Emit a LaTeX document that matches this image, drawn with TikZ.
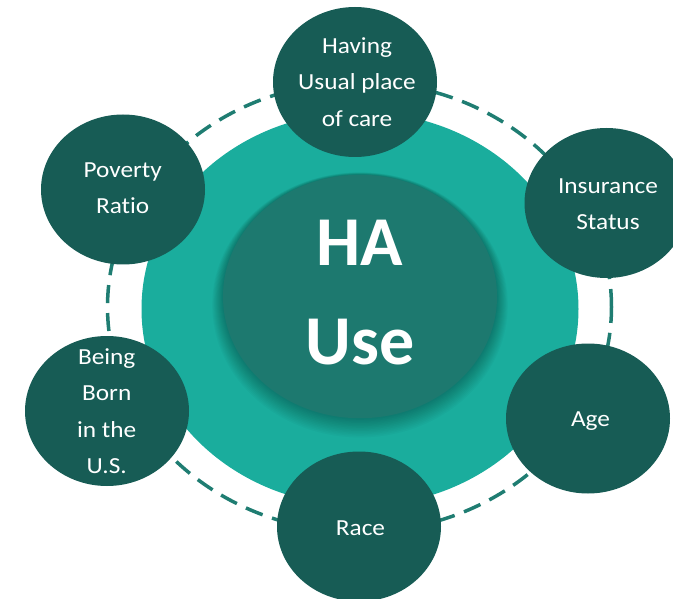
\documentclass[tikz,border=0pt]{standalone}
\usepackage{fontspec}
\setmainfont{Carlito}[Ligatures=NoCommon]
\newfontfamily\widefont{Carlito}[FakeStretch=1.1, Ligatures=NoCommon]
\usetikzlibrary{shapes.geometric}
\definecolor{nodedark}{HTML}{175C55}
\definecolor{ringteal}{HTML}{1AAD9D}
\definecolor{hubcol}{HTML}{1D796F}
\definecolor{dashcol}{HTML}{1F7D72}
\begin{document}
\begin{tikzpicture}[x=1pt,y=-1pt,
  bub/.style={ellipse, fill=nodedark, minimum width=164pt, minimum height=150pt, inner sep=0pt},
  txt/.style={text=white, align=center, font=\widefont\fontsize{23}{36.5}\selectfont, inner sep=0pt},
  bigtxt/.style={text=white, align=center, font=\fontsize{70}{99}\selectfont\bfseries, inner sep=0pt},
  dashring/.style={draw=dashcol, line width=3.5pt, dash pattern=on 18pt off 10pt}]
\useasboundingbox (0,0) rectangle (673,599);
\coordinate (c) at (359.5,307);
\draw[dashring] (c) ellipse [x radius=252pt, y radius=225pt];
\fill[ringteal] (360,309) ellipse [x radius=218.5pt, y radius=197pt];
\foreach \i in {1,...,12}{
  \pgfmathsetmacro\rx{137+0.9*\i}
  \pgfmathsetmacro\ry{121.7+0.9*\i}
  \pgfmathsetmacro\cy{296.5+0.7*\i}
  \fill[black, opacity=0.025] (360,\cy) ellipse [x radius=\rx pt, y radius=\ry pt];
}
\node[ellipse, fill=hubcol, minimum width=274pt, minimum height=243.4pt, inner sep=0pt] (hub) at (360,296.5) {};
\node[bigtxt] (hubt) at (360,295) {\strut HA\\\strut Use};

\node[bub] (care) at (355,82) {};
\node[txt] (caret) at (357,82.5) {\strut Having\\\strut Usual place\\\strut of care};
\node[bub] (ins) at (606.5,203) {};
\node[txt] (inst) at (608,204) {\strut Insurance\\\strut Status};
\node[bub] (age) at (588,418.5) {};
\node[txt] (aget) at (590.5,419.4) {\strut Age};
\node[bub] (race) at (359,526.5) {};
\node[txt] (racet) at (360.5,527.7) {\strut Race};
\node[bub] (born) at (107,411) {};
\node[txt] (bornt) at (106.7,411.5) {\strut Being\\\strut Born\\\strut in the\\\strut U.S.};
\node[bub] (pov) at (123,189.5) {};
\node[txt] (povt) at (122.7,188.3) {\strut Poverty\\\strut Ratio};
\end{tikzpicture}
\end{document}
